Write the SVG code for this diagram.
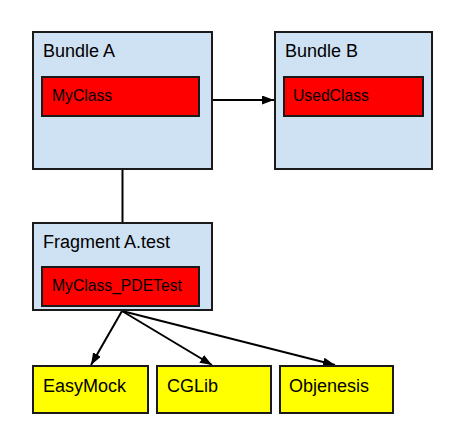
<svg xmlns="http://www.w3.org/2000/svg" width="464" height="445" viewBox="0 0 464 445">
<style>
.c{fill:#cfe2f3;stroke:#1a1a1a;stroke-width:2}
.r{fill:#ff0000;stroke:#1a1a1a;stroke-width:2}
.y{fill:#ffff00;stroke:#1a1a1a;stroke-width:2}
.t{font-family:"Liberation Sans",Arial,sans-serif;font-size:18px;fill:#000}
.s{font-family:"Liberation Sans",Arial,sans-serif;font-size:15.7px;fill:#000}
.l{stroke:#000;stroke-width:2;fill:none}
</style>
<defs>
<marker id="ah" markerWidth="12" markerHeight="9" refX="12" refY="4.5" orient="auto" markerUnits="userSpaceOnUse">
<path d="M0,0 L12,4.5 L0,9 z" fill="#000"/>
</marker>
</defs>
<rect width="464" height="445" fill="#fff"/>
<g id="connectors">
<line class="l" x1="212" y1="100" x2="274" y2="100" marker-end="url(#ah)"/>
<line class="l" x1="122.5" y1="169" x2="122.5" y2="223"/>
<line class="l" x1="122" y1="311" x2="91" y2="365" marker-end="url(#ah)"/>
<line class="l" x1="122" y1="311" x2="212" y2="365" marker-end="url(#ah)"/>
<line class="l" x1="122" y1="311" x2="335" y2="365" marker-end="url(#ah)"/>
</g>
<g id="bundleA">
<rect class="c" x="33" y="32" width="179" height="137"/>
<text class="t" x="43" y="57">Bundle A</text>
<g id="myclass">
<rect class="r" x="42" y="77" width="157" height="39"/>
<text class="s" x="52" y="101">MyClass</text>
</g>
</g>
<g id="bundleB">
<rect class="c" x="275" y="32" width="157" height="137"/>
<text class="t" x="285" y="57">Bundle B</text>
<g id="usedclass">
<rect class="r" x="284" y="77" width="139" height="39"/>
<text class="s" x="293" y="101">UsedClass</text>
</g>
</g>
<g id="fragment">
<rect class="c" x="33" y="223" width="179" height="87"/>
<text class="t" x="43" y="248">Fragment A.test</text>
<g id="pdetest">
<rect class="r" x="42" y="267" width="157" height="39"/>
<text class="s" x="52" y="291">MyClass_PDETest</text>
</g>
</g>
<g id="easymock">
<rect class="y" x="33" y="366" width="115" height="47"/>
<text class="t" x="43" y="392">EasyMock</text>
</g>
<g id="cglib">
<rect class="y" x="157" y="366" width="114" height="47"/>
<text class="t" x="167" y="392">CGLib</text>
</g>
<g id="objenesis">
<rect class="y" x="280" y="366" width="113" height="47"/>
<text class="t" x="289" y="392">Objenesis</text>
</g>
</svg>
